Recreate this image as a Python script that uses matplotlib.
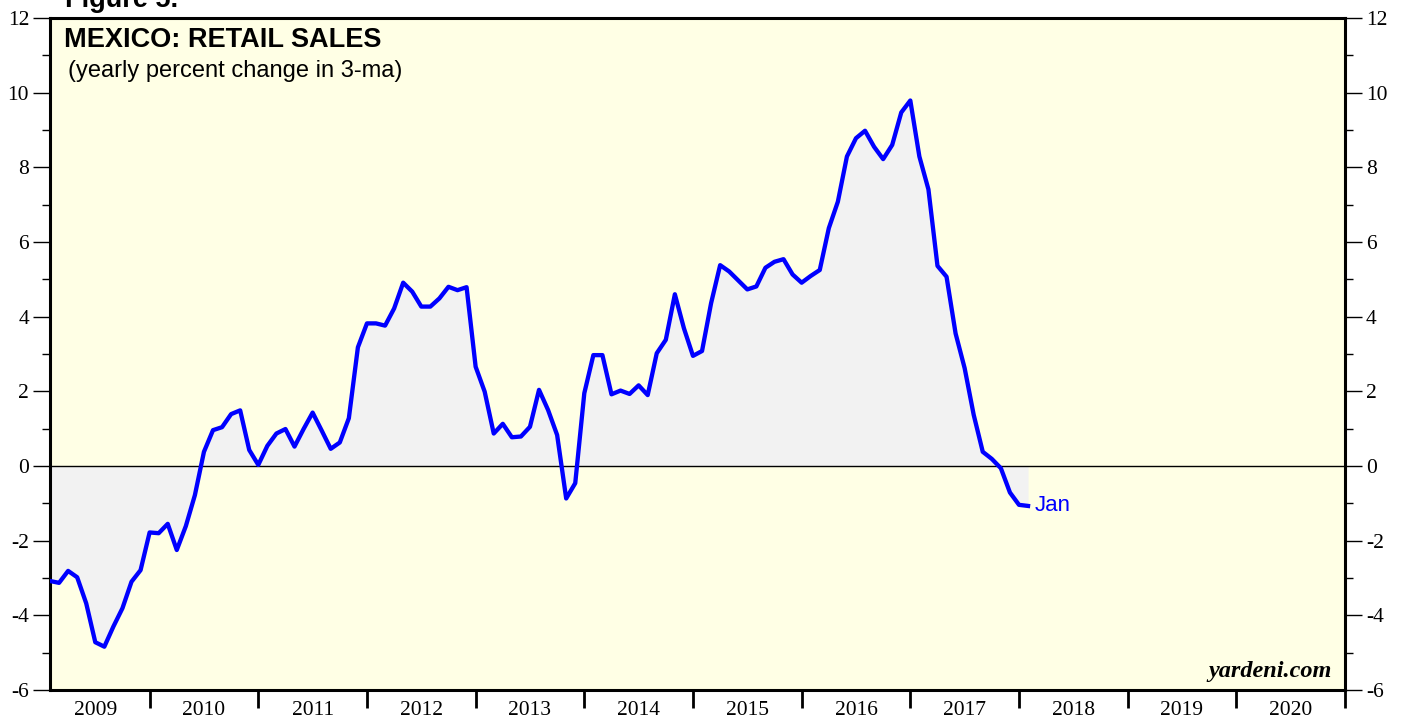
import numpy as np
import matplotlib.pyplot as plt
from matplotlib.ticker import MultipleLocator, FixedLocator, NullFormatter

plt.rcParams['axes.unicode_minus'] = False

# monthly values, Jan 2009 .. Jan 2018 (yearly % change in 3-ma)
start_year = 2009
sales = [
    -3.08, -3.13, -2.81, -2.98, -3.68, -4.72, -4.84, -4.30, -3.81, -3.10, -2.79, -1.78,  # 2009
    -1.80, -1.55, -2.25, -1.61, -0.78, 0.38, 0.96, 1.04, 1.39, 1.49, 0.43, 0.03,        # 2010
    0.54, 0.87, 0.99, 0.52, 0.99, 1.43, 0.95, 0.46, 0.63, 1.28, 3.18, 3.82,             # 2011
    3.82, 3.76, 4.22, 4.91, 4.67, 4.27, 4.27, 4.49, 4.80, 4.71, 4.79, 2.66,             # 2012
    1.99, 0.87, 1.13, 0.77, 0.79, 1.05, 2.04, 1.50, 0.83, -0.87, -0.46, 1.95,           # 2013
    2.97, 2.97, 1.92, 2.02, 1.93, 2.16, 1.90, 3.02, 3.38, 4.60, 3.69, 2.95,             # 2014
    3.08, 4.36, 5.38, 5.21, 4.97, 4.73, 4.81, 5.31, 5.47, 5.54, 5.13, 4.91,             # 2015
    5.09, 5.25, 6.37, 7.08, 8.29, 8.78, 8.98, 8.55, 8.22, 8.60, 9.47, 9.79,             # 2016
    8.29, 7.41, 5.36, 5.07, 3.55, 2.62, 1.37, 0.38, 0.19, -0.06, -0.71, -1.04,          # 2017
    -1.07,                                                                               # 2018
]
year_labels = [str(y) for y in range(2009, 2021)]

# month i sits at the end of its month on a decimal-year scale
t = start_year + (np.arange(len(sales)) + 1) / 12.0
v = np.array(sales)

fig = plt.figure(figsize=(14.05, 7.21), dpi=100)
ax = fig.add_axes([50/1405, 31/721, 1295/1405, 672/721])
ax.set_facecolor('#ffffe5')

ax.fill_between(t, v, 0, color='#f2f2f2', lw=0, zorder=1)
ax.axhline(0, color='black', lw=1.0, zorder=2)
ax.plot(t, v, color='#0000ff', lw=3.1, zorder=3)

ax.set_xlim(t[0], 2021)
ax.set_ylim(-6, 12)

# y axis on both sides
ax.yaxis.set_major_locator(MultipleLocator(2))
ax.yaxis.set_minor_locator(MultipleLocator(1))
ax.tick_params(axis='y', which='both', left=True, right=True, labelleft=True,
               labelright=True, direction='out', colors='black')
ax.tick_params(axis='y', which='major', length=12, width=1.0, pad=3,
               labelsize=15.5)
ax.tick_params(axis='y', which='minor', length=6, width=1.0)

# x axis: ticks at year boundaries, labels mid-year
ax.xaxis.set_major_locator(FixedLocator(range(2010, 2022)))
ax.xaxis.set_major_formatter(NullFormatter())
ax.xaxis.set_minor_locator(FixedLocator([y + 0.5 for y in range(2009, 2021)]))
ax.set_xticklabels(year_labels, minor=True)
ax.tick_params(axis='x', which='major', length=13, width=2.0, direction='out')
ax.tick_params(axis='x', which='minor', length=0, pad=8, labelsize=15.5)

for lab in ax.get_xticklabels(minor=True):
    lab.set_family('Liberation Serif')
for tk in ax.yaxis.get_major_ticks():
    tk.label1.set_family('Liberation Serif')
    tk.label2.set_family('Liberation Serif')

for s in ax.spines.values():
    s.set_linewidth(2.2)
    s.set_color('black')

ax.text(0.011, 0.987, 'MEXICO: RETAIL SALES', transform=ax.transAxes,
        fontsize=19.5, fontweight='bold', family='Liberation Sans',
        va='top', ha='left')
ax.text(0.014, 0.937, '(yearly percent change in 3-ma)', transform=ax.transAxes,
        fontsize=17, family='Liberation Sans', va='top', ha='left')

ax.annotate('Jan', xy=(t[-1], v[-1]), xytext=(5, 0), textcoords='offset points',
            color='#0000ff', fontsize=16, family='Liberation Sans',
            va='center', ha='left')

ax.text(0.99, 0.012, 'yardeni.com', transform=ax.transAxes, fontsize=17.5,
        fontweight='bold', fontstyle='italic', family='Liberation Serif',
        ha='right', va='bottom')

fig.text(65/1405, 1 - 7/721, 'Figure 5.', fontsize=19.5, fontweight='bold',
         family='Liberation Sans', ha='left', va='baseline')

fig.savefig('out.png', dpi=100)
